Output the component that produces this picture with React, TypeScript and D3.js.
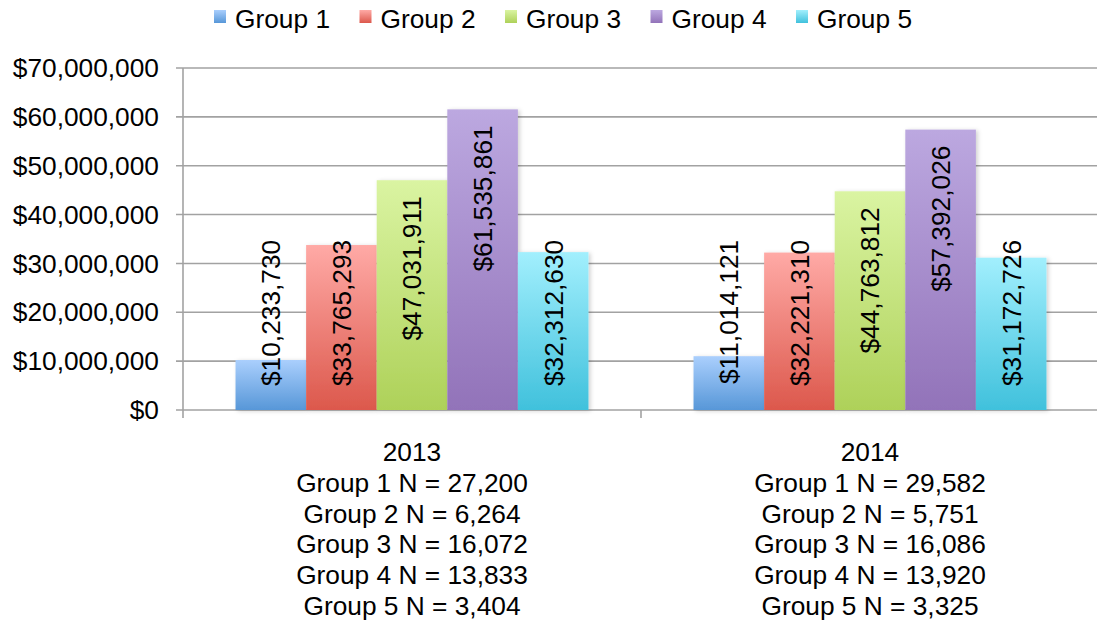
import React from "react";
import * as d3 from "d3";

const years = ["2013", "2014"];
const groups = ["Group 1", "Group 2", "Group 3", "Group 4", "Group 5"];
const values2013 = [10233730, 33765293, 47031911, 61535861, 32312630];
const values2014 = [11014121, 32221310, 44763812, 57392026, 31172726];
const counts2013 = ["27,200", "6,264", "16,072", "13,833", "3,404"];
const counts2014 = ["29,582", "5,751", "16,086", "13,920", "3,325"];
const yTicks = [0, 10000000, 20000000, 30000000, 40000000, 50000000, 60000000, 70000000];
const colorsTop = ["#aacffd", "#ffaaa6", "#daf4a2", "#bca8e0", "#a2effd"];
const colorsBottom = ["#5797d8", "#dc584c", "#aed159", "#9273b9", "#40c1dc"];

const valuesByYear = [values2013, values2014];
const countsByYear = [counts2013, counts2014];

export default function App() {
  const W = 1097;
  const H = 628;
  const left = 183;
  const right = 1099;
  const top = 68;
  const bottom = 410;
  const font = "'Liberation Sans', Arial, sans-serif";
  const fs = 26.3;
  const lfs = 26.3;
  const grid = "#a2a2a2";

  const y = d3.scaleLinear().domain([0, 70000000]).range([bottom, top]);
  const x0 = d3.scaleBand<string>().domain(years).range([left, right]).paddingInner(0).paddingOuter(0);
  const x1 = d3
    .scaleBand<string>()
    .domain(groups)
    .range([0, x0.bandwidth()])
    .paddingInner(0)
    .paddingOuter(0.744);
  const fmt = (v: number) => "$" + d3.format(",")(v);

  const legendX = d3.scalePoint<string>().domain(groups).range([214, 796]);

  const labelLen = (s: string) => {
    let w = 0;
    for (const c of s) w += c === "," ? 0.278 : 0.556;
    return w * lfs;
  };

  return (
    <svg
      width={W}
      height={H}
      style={{ position: "absolute", left: 0, top: 0, background: "#fff" }}
      fontFamily={font}
    >
      <defs>
        {groups.map((g, i) => (
          <linearGradient key={g} id={`grad${i}`} x1="0" y1="0" x2="0" y2="1">
            <stop offset="0%" stopColor={colorsTop[i]} />
            <stop offset="100%" stopColor={colorsBottom[i]} />
          </linearGradient>
        ))}
        <filter id="shadow" x="-10%" y="-10%" width="130%" height="130%">
          <feDropShadow dx="2" dy="1" stdDeviation="2" floodColor="#000" floodOpacity="0.18" />
        </filter>
      </defs>

      {/* Legend */}
      {groups.map((g, i) => (
        <g key={g}>
          <rect x={legendX(g)} y={10} width={12} height={13} fill={`url(#grad${i})`} />
          <text x={(legendX(g) as number) + 21} y={28} fontSize={fs} fill="#000">
            {g}
          </text>
        </g>
      ))}

      {/* Grid lines and y ticks */}
      {yTicks.map((t) => (
        <g key={t}>
          <line x1={left - 7} x2={right} y1={y(t)} y2={y(t)} stroke={grid} strokeWidth={1.6} />
          <text
            x={159}
            y={y(t)}
            dy="0.35em"
            textAnchor="end"
            fontSize={fs}
            fill="#000"
          >
            {fmt(t)}
          </text>
        </g>
      ))}

      {/* Axis */}
      <line x1={left} x2={left} y1={top} y2={bottom + 8} stroke={grid} strokeWidth={1.6} />
      {years.map((yr) => (
        <line
          key={yr}
          x1={(x0(yr) as number) + x0.bandwidth()}
          x2={(x0(yr) as number) + x0.bandwidth()}
          y1={bottom}
          y2={bottom + 8}
          stroke={grid}
          strokeWidth={1.6}
        />
      ))}

      {/* Bars */}
      {years.map((yr, yi) => (
        <g key={yr} transform={`translate(${x0(yr)},0)`}>
          {groups.map((g, gi) => {
            const v = valuesByYear[yi][gi];
            const bx = x1(g) as number;
            return (
              <rect
                key={g}
                x={bx}
                y={y(v)}
                width={x1.bandwidth()}
                height={y(0) - y(v)}
                fill={`url(#grad${gi})`}
                filter="url(#shadow)"
              />
            );
          })}
          {groups.map((g, gi) => {
            const v = valuesByYear[yi][gi];
            const s = fmt(v);
            const len = labelLen(s);
            const cx = (x1(g) as number) + x1.bandwidth() / 2;
            const lblTop = Math.min(y(v) + 16, y(0) - 24 - len);
            return (
              <text
                key={g}
                transform={`translate(${cx},${lblTop}) rotate(-90)`}
                textAnchor="end"
                dy="0.36em"
                fontSize={lfs}
                fill="#000"
              >
                {s}
              </text>
            );
          })}
        </g>
      ))}

      {/* Category labels */}
      {years.map((yr, yi) => {
        const cx = (x0(yr) as number) + x0.bandwidth() / 2;
        const lines = [yr, ...groups.map((g, gi) => `${g} N = ${countsByYear[yi][gi]}`)];
        return (
          <text key={yr} textAnchor="middle" fontSize={fs} fill="#000">
            {lines.map((l, li) => (
              <tspan key={li} x={cx} y={461 + li * 30.8}>
                {l}
              </tspan>
            ))}
          </text>
        );
      })}
    </svg>
  );
}
